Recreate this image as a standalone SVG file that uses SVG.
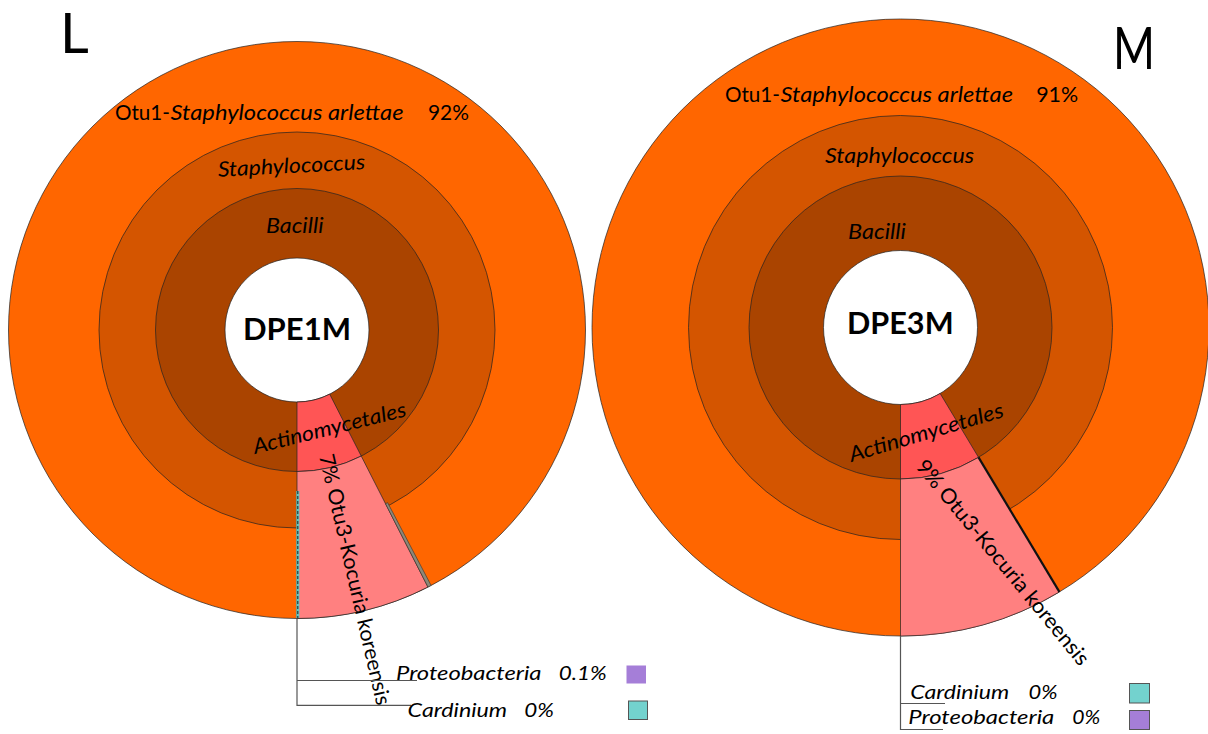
<svg xmlns="http://www.w3.org/2000/svg" width="1208" height="734" viewBox="0 0 1208 734">
<style>
.t{font-family:Lato,"Open Sans","Liberation Sans",sans-serif;fill:#000}
.i{font-style:italic}
.b{font-weight:bold}
.ring{stroke:#222;stroke-width:0.7}
.o{fill:#FF6600}.s{fill:#D45500}.c{fill:#AA4400}.w{fill:#FFFFFF}
.red{fill:#FF5555;stroke:#222;stroke-width:0.7}
.pink{fill:#FF8080;stroke:#222;stroke-width:0.7}
.lead{stroke:#555;stroke-width:1.2;fill:none}
.sq{stroke:#555;stroke-width:1}
</style>
<rect width="1208" height="734" fill="#FFFFFF"/>
<text class="t" x="60" y="53" font-size="56">L</text>
<text class="t" x="1113" y="69" font-size="59" textLength="42" lengthAdjust="spacingAndGlyphs">M</text>

<g id="chart-DPE1M">
  <circle class="ring o" cx="297" cy="330" r="288.5"/>
  <circle class="ring s" cx="297" cy="330" r="198"/>
  <circle class="ring c" cx="297" cy="330" r="141.5"/>
  <circle class="ring w" cx="297" cy="330" r="72"/>
  <path class="red" d="M297,402 L297,471.5 A141.5,141.5 0 0 0 361.24,456.08 L329.69,394.15 A72,72 0 0 1 297,402 Z"/>
  <path class="pink" d="M297,471.5 L297,618.5 A288.5,288.5 0 0 0 427.98,587.06 L361.24,456.08 A141.5,141.5 0 0 1 297,471.5 Z"/>
  <polygon points="385.53,503.75 427.98,587.06 431.11,585.44 387.64,502.65" fill="#8C8878" stroke="#333" stroke-width="0.6"/>
  <rect x="296.3" y="491" width="3" height="127" fill="#5FC6C2"/>
  <line x1="297.8" y1="491" x2="297.8" y2="618" stroke="#222" stroke-width="1" stroke-dasharray="3,2"/>
  <text class="t" x="115" y="119.5" font-size="21" textLength="55" lengthAdjust="spacingAndGlyphs">Otu1-</text>
  <text class="t i" x="170.5" y="119.5" font-size="21" textLength="233" lengthAdjust="spacingAndGlyphs">Staphylococcus arlettae</text>
  <text class="t" x="428" y="119.5" font-size="21" textLength="41" lengthAdjust="spacingAndGlyphs">92%</text>
  <text class="t i" x="218" y="173" font-size="21" textLength="147.5" lengthAdjust="spacingAndGlyphs" transform="rotate(-3 291 172)">Staphylococcus</text>
  <text class="t i" x="266" y="233" font-size="21" textLength="57.5" lengthAdjust="spacingAndGlyphs">Bacilli</text>
  <text class="t b" x="243" y="340" font-size="31" textLength="108" lengthAdjust="spacingAndGlyphs">DPE1M</text>
  <text class="t i" transform="translate(255,454) rotate(-14)" font-size="21" textLength="157" lengthAdjust="spacingAndGlyphs">Actinomycetales</text>
  <text class="t" transform="translate(319,456) rotate(77)" font-size="21" textLength="257" lengthAdjust="spacingAndGlyphs">7% Otu3-Kocuria koreensis</text>
</g>

<g id="chart-DPE3M">
  <circle class="ring o" cx="900.5" cy="327.5" r="308.5"/>
  <circle class="ring s" cx="900.5" cy="327.5" r="212"/>
  <circle class="ring c" cx="900.5" cy="327.5" r="151.5"/>
  <circle class="ring w" cx="900.5" cy="327.5" r="77"/>
  <path class="red" d="M900.5,404.5 L900.5,479 A151.5,151.5 0 0 0 978.53,457.36 L940.16,393.5 A77,77 0 0 1 900.5,404.5 Z"/>
  <path class="pink" d="M900.5,479 L900.5,636 A308.5,308.5 0 0 0 1059.39,591.94 L978.53,457.36 A151.5,151.5 0 0 1 900.5,479 Z"/>
  <line x1="978.53" y1="457.36" x2="1059.39" y2="591.94" stroke="#111" stroke-width="2.2"/>
  <text class="t" x="725" y="101.7" font-size="21" textLength="55" lengthAdjust="spacingAndGlyphs">Otu1-</text>
  <text class="t i" x="780.5" y="101.7" font-size="21" textLength="232.5" lengthAdjust="spacingAndGlyphs">Staphylococcus arlettae</text>
  <text class="t" x="1036.2" y="101.7" font-size="21" textLength="42" lengthAdjust="spacingAndGlyphs">91%</text>
  <text class="t i" x="825" y="162.7" font-size="21" textLength="149" lengthAdjust="spacingAndGlyphs">Staphylococcus</text>
  <text class="t i" x="848" y="239" font-size="21" textLength="58" lengthAdjust="spacingAndGlyphs">Bacilli</text>
  <text class="t b" x="847" y="334.3" font-size="31" textLength="106.6" lengthAdjust="spacingAndGlyphs">DPE3M</text>
  <text class="t i" transform="translate(851.5,462) rotate(-16.5)" font-size="21" textLength="160" lengthAdjust="spacingAndGlyphs">Actinomycetales</text>
  <text class="t" transform="translate(915,467) rotate(50.5)" font-size="21" textLength="259" lengthAdjust="spacingAndGlyphs">9% Otu3-Kocuria koreensis</text>
</g>

<g id="connectors">
  <polyline class="lead" points="297,618.5 297,705.3 411,705.3"/>
  <line class="lead" x1="297" y1="680.5" x2="417" y2="680.5"/>
  <polyline class="lead" points="900.5,636 900.5,729.5 943,729.5"/>
  <line class="lead" x1="900.5" y1="703.5" x2="945" y2="703.5" stroke="#999"/>
</g>

<g id="legend-DPE1M">
  <text class="t i" x="396" y="680" font-size="20" textLength="145.5" lengthAdjust="spacingAndGlyphs">Proteobacteria</text>
  <text class="t i" x="558.7" y="680" font-size="20" textLength="48" lengthAdjust="spacingAndGlyphs">0.1%</text>
  <rect x="626.5" y="665.5" width="19.5" height="18" fill="#A57ED8"/>
  <text class="t i" x="407.6" y="717" font-size="20" textLength="99.5" lengthAdjust="spacingAndGlyphs">Cardinium</text>
  <text class="t i" x="524.3" y="717" font-size="20" textLength="29.7" lengthAdjust="spacingAndGlyphs">0%</text>
  <rect class="sq" x="628.5" y="701" width="19" height="18.5" fill="#73D2CE"/>
</g>

<g id="legend-DPE3M">
  <text class="t i" x="910.2" y="698.7" font-size="20" textLength="99" lengthAdjust="spacingAndGlyphs">Cardinium</text>
  <text class="t i" x="1028.5" y="698.7" font-size="20" textLength="29" lengthAdjust="spacingAndGlyphs">0%</text>
  <rect class="sq" x="1129.5" y="683.5" width="20" height="19.5" fill="#73D2CE"/>
  <text class="t i" x="908.3" y="724.3" font-size="20" textLength="146" lengthAdjust="spacingAndGlyphs">Proteobacteria</text>
  <text class="t i" x="1072.3" y="724.3" font-size="20" textLength="28" lengthAdjust="spacingAndGlyphs">0%</text>
  <rect class="sq" x="1129.5" y="710.5" width="20" height="19" fill="#A57ED8"/>
</g>
</svg>
